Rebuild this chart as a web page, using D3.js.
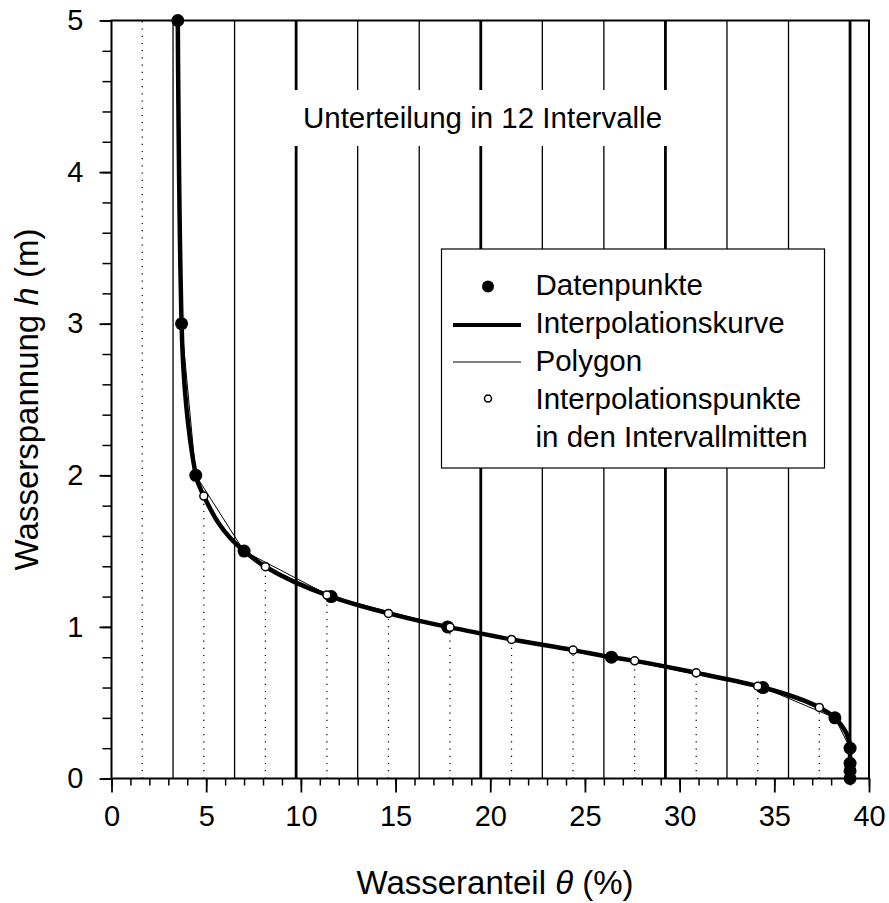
<!DOCTYPE html>
<html>
<head>
<meta charset="utf-8">
<script src="https://cdn.jsdelivr.net/npm/d3@7"></script>
<style>
  body { margin: 0; background: #fff; }
  text { font-family: "Liberation Sans", Arial, sans-serif; fill: #000; }
</style>
</head>
<body>
<svg id="chart" width="889" height="903"></svg>
<script>
// measured data points (water content in %, water tension in m)
const thetaData = [3.5, 3.7, 4.45, 7.0, 11.6, 17.75, 26.4, 34.4, 38.2, 39, 39, 39, 39];
const hData = [5, 3, 2, 1.5, 1.2, 1.0, 0.8, 0.6, 0.4, 0.2, 0.1, 0.05, 0];

// 12 intervals between 0 and 39 %
const intervalBounds = [0, 3.25, 6.5, 9.75, 13, 16.25, 19.5, 22.75, 26, 29.25, 32.5, 35.75, 39];
const thickBounds = [9.75, 19.5, 29.25, 39];

// interval mid points and their interpolated values
const midTheta = [1.625, 4.875, 8.125, 11.375, 14.625, 17.875, 21.125, 24.375, 27.625, 30.875, 34.125, 37.375];
const midH = [null, 1.863, 1.397, 1.21, 1.089, 0.997, 0.917, 0.847, 0.776, 0.697, 0.609, 0.469];

const xMajorTicks = [0, 5, 10, 15, 20, 25, 30, 35, 40];
const yMajorTicks = [0, 1, 2, 3, 4, 5];

const legendLabels = ['Datenpunkte', 'Interpolationskurve', 'Polygon', 'Interpolationspunkte', 'in den Intervallmitten'];

const size = { w: 889, h: 903 };
const margin = { top: 20.5, right: 20, bottom: 124.5, left: 111.5 };

const svg = d3.select('#chart');

let x = d3.scaleLinear().domain([0, 40]).range([margin.left, size.w - margin.right]);
let y = d3.scaleLinear().domain([0, 5]).range([size.h - margin.bottom, margin.top]);

// vertical interval lines
svg.append('g')
    .selectAll('line')
    .data(intervalBounds.slice(1))
    .join('line')
    .attr('x1', d => x(d)).attr('x2', d => x(d))
    .attr('y1', y(0)).attr('y2', y(5))
    .attr('stroke', '#000')
    .attr('stroke-width', d => thickBounds.includes(d) ? 2.8 : 1.3);

// dotted lines at the interval centres
let mids = midTheta.map((t, i) => ({ t: t, h: midH[i] }));
svg.append('g')
    .selectAll('line')
    .data(mids)
    .join('line')
    .attr('x1', d => x(d.t)).attr('x2', d => x(d.t))
    .attr('y1', y(0))
    .attr('y2', d => d.h === null ? y(5) : y(d.h))
    .attr('stroke', '#000')
    .attr('stroke-width', 1.2)
    .attr('stroke-dasharray', '1.2,6');

// white box behind the title, hides the grid lines
svg.append('rect')
    .attr('x', 288).attr('y', 90)
    .attr('width', 386).attr('height', 56)
    .attr('fill', '#fff');

svg.append('text')
    .attr('x', 482.5).attr('y', 128)
    .attr('text-anchor', 'middle')
    .attr('font-size', 29.5)
    .text('Unterteilung in 12 Intervalle');

// frame
svg.append('rect')
    .attr('x', x(0)).attr('y', y(5))
    .attr('width', x(40) - x(0)).attr('height', y(0) - y(5))
    .attr('fill', 'none')
    .attr('stroke', '#000')
    .attr('stroke-width', 2);

// x axis ticks
svg.append('g')
    .attr('transform', `translate(0,${y(0)})`)
    .call(d3.axisBottom(x).tickValues(d3.range(0, 41, 1)).tickSize(7).tickFormat(''))
    .call(g => g.select('.domain').remove())
    .call(g => g.selectAll('line').attr('stroke-width', 1.5));

svg.append('g')
    .attr('transform', `translate(0,${y(0)})`)
    .call(d3.axisBottom(x).tickValues(xMajorTicks).tickSize(14).tickPadding(13))
    .call(g => g.select('.domain').remove())
    .call(g => g.selectAll('line').attr('stroke-width', 1.8))
    .call(g => g.selectAll('text')
        .attr('font-size', 29)
        .attr('font-family', '"Liberation Sans", Arial, sans-serif'));

// y axis ticks
svg.append('g')
    .attr('transform', `translate(${x(0)},0)`)
    .call(d3.axisLeft(y).tickValues(d3.range(0, 5.01, 0.2)).tickSize(9).tickFormat(''))
    .call(g => g.select('.domain').remove())
    .call(g => g.selectAll('line').attr('stroke-width', 1.5));

svg.append('g')
    .attr('transform', `translate(${x(0)},0)`)
    .call(d3.axisLeft(y).tickValues(yMajorTicks).tickSize(12).tickPadding(16).tickFormat(d3.format('d')))
    .call(g => g.select('.domain').remove())
    .call(g => g.selectAll('line').attr('stroke-width', 1.8))
    .call(g => g.selectAll('text')
        .attr('font-size', 29)
        .attr('font-family', '"Liberation Sans", Arial, sans-serif'));

// axis titles
let xTitle = svg.append('text')
    .attr('x', 495).attr('y', 894)
    .attr('text-anchor', 'middle')
    .attr('font-size', 33);
xTitle.append('tspan').text('Wasseranteil ');
xTitle.append('tspan').attr('font-style', 'italic').text('θ');
xTitle.append('tspan').text(' (%)');

let yTitle = svg.append('text')
    .attr('transform', `translate(38,${(y(0) + y(5)) / 2}) rotate(-90)`)
    .attr('text-anchor', 'middle')
    .attr('font-size', 33);
yTitle.append('tspan').text('Wasserspannung ');
yTitle.append('tspan').attr('font-style', 'italic').text('h');
yTitle.append('tspan').text(' (m)');

// curves
let points = thetaData.map((t, i) => ({ t: t, h: hData[i] }));
let curvePoints = points.concat(mids.filter(d => d.h !== null))
    .sort((a, b) => b.h - a.h);

svg.append('path')
    .datum(curvePoints)
    .attr('fill', 'none')
    .attr('stroke', '#000')
    .attr('stroke-width', 4.5)
    .attr('stroke-linejoin', 'round')
    .attr('d', d3.line().x(d => x(d.t)).y(d => y(d.h)).curve(d3.curveMonotoneY));

svg.append('path')
    .datum(points)
    .attr('fill', 'none')
    .attr('stroke', '#000')
    .attr('stroke-width', 1)
    .attr('d', d3.line().x(d => x(d.t)).y(d => y(d.h)));

svg.append('g')
    .selectAll('circle')
    .data(points)
    .join('circle')
    .attr('cx', d => x(d.t)).attr('cy', d => y(d.h))
    .attr('r', 6.5)
    .attr('fill', '#000');

svg.append('g')
    .selectAll('circle')
    .data(mids.filter(d => d.h !== null))
    .join('circle')
    .attr('cx', d => x(d.t)).attr('cy', d => y(d.h))
    .attr('r', 4)
    .attr('fill', '#fff')
    .attr('stroke', '#000')
    .attr('stroke-width', 1.5);

// legend
const legend = svg.append('g');
legend.append('rect')
    .attr('x', 441.5).attr('y', 249)
    .attr('width', 383).attr('height', 219)
    .attr('fill', '#fff')
    .attr('stroke', '#000')
    .attr('stroke-width', 1.2);

legend.append('circle')
    .attr('cx', 488).attr('cy', 286.5).attr('r', 6)
    .attr('fill', '#000');
legend.append('line')
    .attr('x1', 453).attr('x2', 521).attr('y1', 325).attr('y2', 325)
    .attr('stroke', '#000').attr('stroke-width', 4);
legend.append('line')
    .attr('x1', 453).attr('x2', 521).attr('y1', 362).attr('y2', 362)
    .attr('stroke', '#000').attr('stroke-width', 1);
legend.append('circle')
    .attr('cx', 488).attr('cy', 398.5).attr('r', 3.5)
    .attr('fill', '#fff')
    .attr('stroke', '#000')
    .attr('stroke-width', 1.5);

legend.selectAll('text')
    .data(legendLabels)
    .join('text')
    .attr('x', 535.5)
    .attr('y', (d, i) => 295 + i * 38)
    .attr('font-size', 29.5)
    .text(d => d);
</script>
</body>
</html>
